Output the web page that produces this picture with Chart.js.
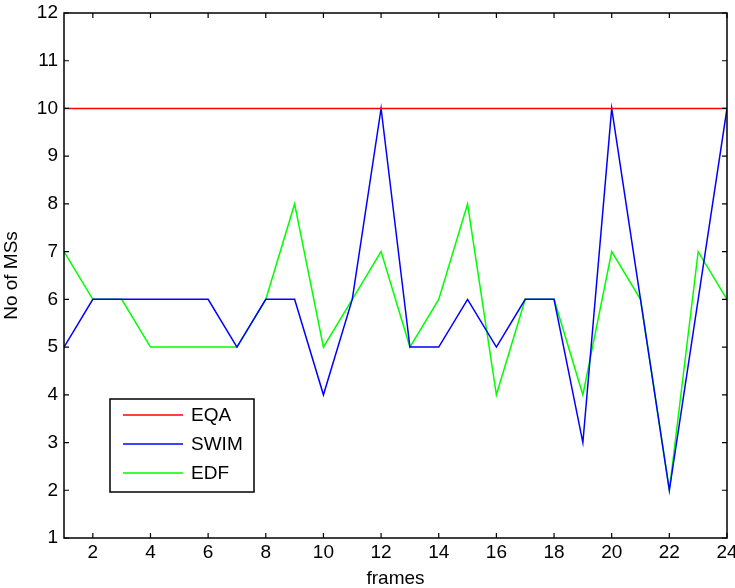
<!DOCTYPE html>
<html>
<head>
<meta charset="utf-8">
<script src="https://cdn.jsdelivr.net/npm/chart.js"></script>
<style>
  html, body { margin: 0; padding: 0; background: #fff; }
  #wrap { width: 735px; height: 588px; position: relative; }
</style>
</head>
<body>
<div id="wrap"><canvas id="chart"></canvas></div>
<script>
// ---- data ----
const frames = [1, 2, 3, 4, 5, 6, 7, 8, 9, 10, 11, 12, 13, 14, 15, 16, 17, 18, 19, 20, 21, 22, 23, 24];
const eqa  = [10, 10, 10, 10, 10, 10, 10, 10, 10, 10, 10, 10, 10, 10, 10, 10, 10, 10, 10, 10, 10, 10, 10, 10];
const swim = [5, 6, 6, 6, 6, 6, 5, 6, 6, 4, 6, 10, 5, 5, 6, 5, 6, 6, 3, 10, 6, 2, 6, 10];
const edf  = [7, 6, 6, 5, 5, 5, 5, 6, 8, 5, 6, 7, 5, 6, 8, 4, 6, 6, 4, 7, 6, 2, 7, 6];
const xTicks = [2, 4, 6, 8, 10, 12, 14, 16, 18, 20, 22, 24];
const yTicks = [1, 2, 3, 4, 5, 6, 7, 8, 9, 10, 11, 12];

const FONT = "'Liberation Sans', Arial, sans-serif";
const FS = 19;

const toPoints = (ys) => frames.map((x, i) => ({ x: x, y: ys[i] }));

// matlab-ish box with inward ticks on all four sides + legend inside plot
const matlabBox = {
  id: 'matlabBox',
  afterDatasetsDraw(chart) {
    const { ctx, chartArea: a, scales } = chart;
    ctx.save();
    ctx.strokeStyle = '#000';
    ctx.lineWidth = 1.5;
    ctx.strokeRect(a.left, a.top, a.right - a.left, a.bottom - a.top);

    ctx.lineWidth = 1.2;
    const t = 5;
    xTicks.forEach(v => {
      const px = scales.x.getPixelForValue(v);
      ctx.beginPath();
      ctx.moveTo(px, a.bottom); ctx.lineTo(px, a.bottom - t);
      ctx.moveTo(px, a.top);    ctx.lineTo(px, a.top + t);
      ctx.stroke();
    });
    yTicks.forEach(v => {
      const py = scales.y.getPixelForValue(v);
      ctx.beginPath();
      ctx.moveTo(a.left, py);  ctx.lineTo(a.left + t, py);
      ctx.moveTo(a.right, py); ctx.lineTo(a.right - t, py);
      ctx.stroke();
    });

    // legend box
    const lx = 110, ly = 399, lw = 144, lh = 93;
    ctx.fillStyle = '#fff';
    ctx.fillRect(lx, ly, lw, lh);
    ctx.strokeStyle = '#000';
    ctx.lineWidth = 1.5;
    ctx.strokeRect(lx, ly, lw, lh);
    ctx.font = FS + 'px ' + FONT;
    ctx.textBaseline = 'middle';
    ctx.textAlign = 'left';
    chart.data.datasets.forEach((ds, i) => {
      const yy = ly + 16 + i * 29;
      ctx.strokeStyle = ds.borderColor;
      ctx.lineWidth = 1.5;
      ctx.beginPath();
      ctx.moveTo(lx + 13, yy); ctx.lineTo(lx + 73, yy);
      ctx.stroke();
      ctx.fillStyle = '#000';
      ctx.fillText(ds.label, lx + 81, yy + 1);
    });
    ctx.restore();
  }
};

new Chart(document.getElementById('chart'), {
  type: 'line',
  data: {
    datasets: [
      { label: 'EQA',  data: toPoints(eqa),  borderColor: '#ff0000' },
      { label: 'SWIM', data: toPoints(swim), borderColor: '#0000ff' },
      { label: 'EDF',  data: toPoints(edf),  borderColor: '#00ff00' }
    ]
  },
  options: {
    responsive: true,
    maintainAspectRatio: false,
    animation: false,
    elements: {
      line: { borderWidth: 1.5, tension: 0, fill: false },
      point: { radius: 0, hoverRadius: 0 }
    },
    layout: { padding: { top: 13, right: 8, left: 0, bottom: 0 } },
    plugins: {
      legend: { display: false },
      tooltip: { enabled: false }
    },
    scales: {
      x: {
        type: 'linear',
        min: 1, max: 24,
        grid: { display: false, drawTicks: false, tickLength: 0 },
        border: { display: false },
        afterBuildTicks: (s) => { s.ticks = xTicks.map(v => ({ value: v })); },
        afterFit: (s) => { s.height = 50; s.paddingLeft = 0; s.paddingRight = 0; },
        ticks: {
          font: { family: FONT, size: FS },
          color: '#000',
          padding: 3,
          maxRotation: 0,
          autoSkip: false
        },
        title: {
          display: true,
          text: 'frames',
          font: { family: FONT, size: FS },
          color: '#000',
          padding: { top: 0, bottom: -2 }
        }
      },
      y: {
        type: 'linear',
        min: 1, max: 12,
        grid: { display: false, drawTicks: false, tickLength: 0 },
        border: { display: false },
        afterBuildTicks: (s) => { s.ticks = yTicks.map(v => ({ value: v })); },
        afterFit: (s) => { s.width = 64; s.paddingTop = 0; s.paddingBottom = 0; },
        ticks: {
          font: { family: FONT, size: FS },
          color: '#000',
          padding: 6,
          autoSkip: false
        },
        title: {
          display: true,
          text: 'No of MSs',
          font: { family: FONT, size: FS },
          color: '#000',
          padding: { top: 0, bottom: 0 }
        }
      }
    }
  },
  plugins: [matlabBox]
});
</script>
</body>
</html>
